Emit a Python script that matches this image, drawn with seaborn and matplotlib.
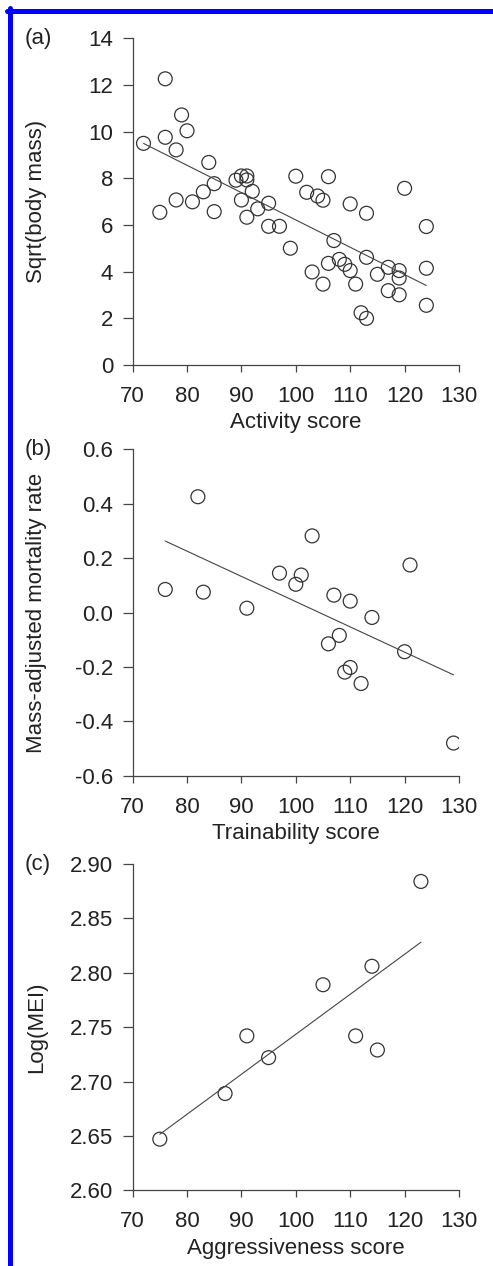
import numpy as np
import pandas as pd
import matplotlib
matplotlib.use("Agg")
import matplotlib.pyplot as plt
from matplotlib.lines import Line2D
import seaborn as sns

# panel (a): activity vs sqrt(body mass)
activity = [72, 76, 76, 75, 78, 78, 79, 80, 81, 83, 84, 85, 85, 89, 90, 91, 91,
            90, 91, 92, 93, 95, 95, 97, 99, 100, 102, 104, 105, 106, 107, 103,
            105, 106, 108, 109, 110, 110, 111, 112, 113, 113, 113, 115, 117,
            117, 119, 119, 119, 120, 124, 124, 124]
sqrt_mass = [9.5, 12.27, 9.76, 6.54, 9.22, 7.07, 10.72, 10.04, 6.99, 7.42, 8.68,
             7.77, 6.57, 7.92, 8.1, 8.1, 7.93, 7.07, 6.33, 7.44, 6.69, 6.93,
             5.94, 5.94, 5.0, 8.09, 7.4, 7.24, 7.06, 8.07, 5.33, 3.98, 3.46,
             4.35, 4.52, 4.31, 4.04, 6.9, 3.46, 2.23, 1.99, 6.5, 4.61, 3.88,
             4.18, 3.18, 4.04, 3.72, 3.0, 7.57, 5.93, 4.14, 2.55]

# panel (b): trainability vs mass-adjusted mortality
trainability = [76, 82, 83, 91, 97, 100, 101, 103, 107, 110, 114, 106, 108, 109,
                110, 112, 120, 121, 129]
mortality = [0.085, 0.426, 0.075, 0.016, 0.145, 0.104, 0.138, 0.282, 0.064,
             0.042, -0.018, -0.115, -0.084, -0.219, -0.202, -0.261, -0.144,
             0.175, -0.48]

# panel (c): aggressiveness vs log(MEI)
aggressiveness = [75, 87, 91, 95, 105, 111, 114, 115, 123]
log_mei = [2.647, 2.689, 2.742, 2.722, 2.789, 2.742, 2.806, 2.729, 2.884]

panels = [
    ("(a)", activity, sqrt_mass, "Activity score", "Sqrt(body mass)",
     (0, 14), [0, 2, 4, 6, 8, 10, 12, 14], "{:.0f}"),
    ("(b)", trainability, mortality, "Trainability score",
     "Mass-adjusted mortality rate", (-0.6, 0.6),
     [-0.6, -0.4, -0.2, 0.0, 0.2, 0.4, 0.6], "{:.1f}"),
    ("(c)", aggressiveness, log_mei, "Aggressiveness score", "Log(MEI)",
     (2.6, 2.9), [2.60, 2.65, 2.70, 2.75, 2.80, 2.85, 2.90], "{:.2f}"),
]

sns.set_style("white")
plt.rcParams['font.family'] = ['Liberation Sans', 'DejaVu Sans']

fig = plt.figure(figsize=(4.93, 12.66), dpi=100)
bottoms = [0.7119, 0.3873, 0.0598]
ink = "#222222"
axis_col = "#444444"
fs = 16

for (tag, xs, ys, xlab, ylab, ylim, yticks, fmt), b in zip(panels, bottoms):
    ax = fig.add_axes([0.269, b, 0.662, 0.2577])
    df = pd.DataFrame({"x": xs, "y": ys})
    sns.regplot(data=df, x="x", y="y", ax=ax, ci=None, color="#333333",
                scatter_kws={"facecolors": "none", "edgecolors": "#333333",
                             "s": 100, "linewidths": 0.9, "alpha": 1},
                line_kws={"linewidth": 0.8, "color": "#444444"})
    ax.set_xlim(70, 130)
    ax.set_ylim(*ylim)
    ax.set_xticks(range(70, 131, 10))
    ax.set_yticks(yticks)
    ax.set_yticklabels([fmt.format(v) for v in yticks])
    for s in ["top", "right"]:
        ax.spines[s].set_visible(False)
    for s in ["left", "bottom"]:
        ax.spines[s].set_color(axis_col)
        ax.spines[s].set_linewidth(0.9)
    ax.tick_params(axis="y", direction="out", length=7, width=0.9,
                   color=axis_col, labelsize=fs, labelcolor=ink, pad=7,
                   left=True)
    ax.tick_params(axis="x", direction="out", length=5, width=0.9,
                   color=axis_col, labelsize=fs, labelcolor=ink, pad=10,
                   bottom=True)
    ax.set_xlabel(xlab, fontsize=fs, color=ink, labelpad=4)
    ax.set_ylabel(ylab, fontsize=fs, color=ink)
    ax.yaxis.set_label_coords(-0.262, 0.5)
    top = b + 0.2577
    fig.text(0.049, top, tag, fontsize=fs, color=ink, ha="left", va="center")

# blue frame on top and left
fig.add_artist(Line2D([9.8 / 493, 9.8 / 493], [1 - 8 / 1266, 0], color="#0000ff",
                      linewidth=3.6, transform=fig.transFigure))
fig.add_artist(Line2D([7 / 493, 1], [1 - 10.8 / 1266, 1 - 10.8 / 1266],
                      color="#0000ff", linewidth=3.6, transform=fig.transFigure))

fig.savefig("out.png", dpi=100)
